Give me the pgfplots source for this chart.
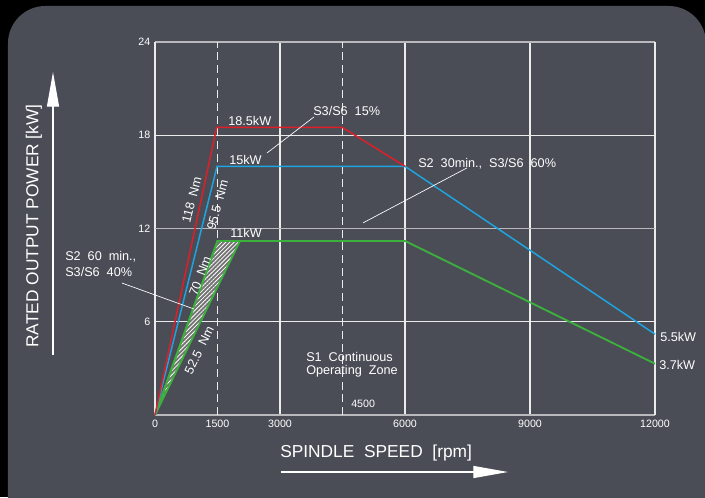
\documentclass[border=0pt]{standalone}
\usepackage{fontspec}
\setmainfont{Liberation Sans}
\usepackage{pgfplots}
\pgfplotsset{compat=1.18}
\usetikzlibrary{patterns.meta,arrows.meta}
\definecolor{bg}{RGB}{74,77,86}
\definecolor{cred}{RGB}{225,30,40}
\definecolor{cblue}{RGB}{30,165,225}
\definecolor{cgreen}{RGB}{60,175,60}
\definecolor{gridw}{RGB}{235,235,235}
\definecolor{gridg}{RGB}{185,185,190}
\newcommand{\wsp}{\hspace{0.55em}}
\begin{document}
\begin{tikzpicture}
\begin{scope}[x=0.75pt,y=0.75pt]
\useasboundingbox (-155,-82) rectangle (550,415);
\fill[black] (-155,-82) rectangle (550,415);
\begin{scope}
\clip (-155,-82) rectangle (550,415);
\fill[bg, rounded corners=28pt] (-147,-140) rectangle (551,409);
\end{scope}
\node[text=white, font=\fontsize{13}{13}\selectfont, anchor=west, inner sep=0] at (125,-38) {SPINDLE\ \ SPEED\ \ [rpm]};
\draw[white, line width=0.9pt, -{Triangle[length=26pt,width=9pt]}] (126,-57) -- (353,-57);
\node[text=white, font=\fontsize{13}{13}\selectfont, rotate=90, inner sep=0] at (-121,189) {RATED\ OUTPUT\ POWER\ [kW]};
\draw[white, line width=0.9pt, -{Triangle[length=26pt,width=9pt]}] (-102,60) -- (-102,343);
\end{scope}
\begin{axis}[at={(0,0)}, anchor=south west, scale only axis,
  width=375pt, height=279.75pt,
  xmin=0, xmax=12000, ymin=0, ymax=24,
  separate axis lines,
  x axis line style={gridg, line width=1pt},
  y axis line style={gridw, line width=1pt},
  xtick={0,3000,6000,9000,12000}, ytick={6,18,24},
  scaled x ticks=false,
  extra x ticks={1500,4500}, extra x tick labels={1500,{}},
  extra x tick style={grid=major, major grid style={gridw, line width=0.8pt, dash pattern=on 6pt off 3.5pt}},
  extra y ticks={12},
  extra y tick style={grid=major, major grid style={gridg, line width=1.3pt}},
  grid=major, major grid style={gridw, line width=0.8pt},
  major tick length=0,
  tick label style={text=white, font=\fontsize{8}{8}\selectfont},
  /pgf/number format/assume math mode=true,
  /pgf/number format/1000 sep={},
  clip=false]
\addplot[draw=none, fill=black!55, forget plot] coordinates {(0,0) (1500,11.2) (2040,11.2) (0,0)};
\addplot[draw=cgreen, line width=1.4pt, pattern={Lines[angle=45,distance=2.2pt,line width=0.6pt]}, pattern color=white] coordinates {(0,0) (1500,11.2) (2040,11.2) (0,0)};
\addplot[cgreen, line width=1.4pt] coordinates {(0,0) (1500,11.2) (6000,11.2) (12000,3.3)};
\addplot[cblue, line width=1.1pt] coordinates {(0,0) (1490,16) (6000,16) (12000,5.2)};
\addplot[cred, line width=1.1pt] coordinates {(0,0) (1480,18.5) (4500,18.5) (6000,16)};
\begin{scope}[every node/.style={text=white, font=\fontsize{9.5}{11}\selectfont, inner sep=0}]
\node[anchor=base west] at (axis cs:1752,18.6) {18.5kW};
\node[anchor=base west] at (axis cs:3792,19.24) {S3/S6\wsp 15\%};
\node[anchor=base west] at (axis cs:1776,16.15) {15kW};
\node[anchor=base west] at (axis cs:6312,15.9) {S2\wsp 30min.,\wsp S3/S6\wsp 60\%};
\node[anchor=base west] at (axis cs:1800,11.45) {11kW};
\node[anchor=base west] at (axis cs:12120,4.76) {5.5kW};
\node[anchor=base west] at (axis cs:12096,2.9) {3.7kW};
\node[anchor=base west] at (axis cs:3624,3.47) {S1\wsp Continuous};
\node[anchor=base west] at (axis cs:3624,2.62) {Operating\wsp Zone};
\node[anchor=base west] at (axis cs:-2160,9.97) {S2\wsp 60\wsp min.,};
\node[anchor=base west] at (axis cs:-2160,8.94) {S3/S6\wsp 40\%};
\node[anchor=base west, font=\fontsize{8}{8}\selectfont] at (axis cs:4704,0.51) {4500};
\node[rotate=76] at (axis cs:880,13.84) {118\wsp Nm};
\node[rotate=75] at (axis cs:1500,13.51) {95.5\wsp Nm};
\node[rotate=69] at (axis cs:1080,8.94) {70\wsp Nm};
\node[rotate=64] at (axis cs:1060,4.18) {52.5\wsp Nm};
\end{scope}
\draw[white, line width=0.5pt] (axis cs:3816,19.18) -- (axis cs:2688,16.86);
\draw[white, line width=0.5pt] (axis cs:7488,15.9) -- (axis cs:4992,12.36);
\draw[white, line width=0.5pt] (axis cs:-792,8.49) -- (axis cs:936,6.82);
\end{axis}
\end{tikzpicture}
\end{document}
